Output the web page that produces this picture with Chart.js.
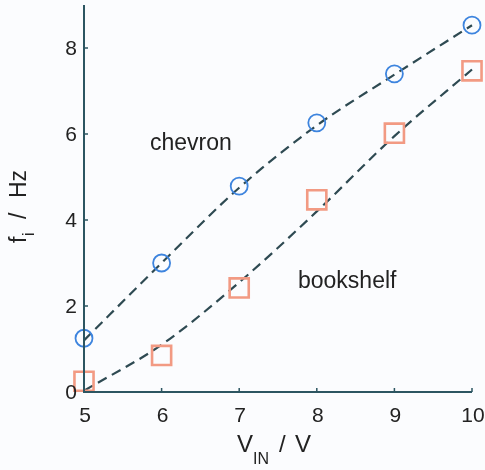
<!DOCTYPE html>
<html>
<head>
<meta charset="utf-8">
<script src="https://cdn.jsdelivr.net/npm/chart.js@4/dist/chart.umd.min.js"></script>
<style>
  html, body { margin: 0; padding: 0; background: #fbfcfe; }
  #wrap { width: 485px; height: 470px; position: relative; }
</style>
</head>
<body>
<div id="wrap"><canvas id="c"></canvas></div>
<script>
// Applied voltage (V)
const voltages = [5, 6, 7, 8, 9, 10];
// Measured frequency, chevron texture (Hz)
const chevron = [1.25, 3.0, 4.79, 6.26, 7.4, 8.53];
// Measured frequency, bookshelf texture (Hz)
const bookshelf = [0.25, 0.85, 2.42, 4.47, 6.02, 7.47];
// Fitted curves through each set
const chevronFit = [1.2, 3.0, 4.75, 6.2, 7.38, 8.53];
const bookshelfFit = [0.03, 1.1, 2.55, 4.2, 5.95, 7.5];
// Axis ticks
const xTicks = [5, 6, 7, 8, 9, 10];
const yTicks = [0, 2, 4, 6, 8];

const FONT = '"Liberation Sans", Arial, sans-serif';
const AXIS = '#2c5561';
const INK = '#222';

const pts = (ys) => voltages.map((x, i) => ({ x, y: ys[i] }));

const annotate = {
  id: 'annotate',
  afterDraw(chart) {
    const { ctx, scales: { x, y }, chartArea: a } = chart;
    ctx.save();
    // axis lines
    ctx.strokeStyle = AXIS;
    ctx.lineWidth = 2;
    ctx.beginPath();
    ctx.moveTo(a.left, a.top);
    ctx.lineTo(a.left, a.bottom);
    ctx.lineTo(a.right, a.bottom);
    ctx.stroke();
    // inward ticks
    ctx.lineWidth = 1.5;
    ctx.beginPath();
    xTicks.forEach(v => { const px = x.getPixelForValue(v); ctx.moveTo(px, a.bottom); ctx.lineTo(px, a.bottom - 4); });
    yTicks.forEach(v => { const py = y.getPixelForValue(v); ctx.moveTo(a.left, py); ctx.lineTo(a.left + 4, py); });
    ctx.stroke();

    // tick labels
    ctx.fillStyle = INK;
    ctx.font = '21px ' + FONT;
    ctx.textAlign = 'center';
    ctx.textBaseline = 'alphabetic';
    xTicks.forEach(v => ctx.fillText(String(v), x.getPixelForValue(v) + 1, a.bottom + 30));
    ctx.textAlign = 'right';
    ctx.textBaseline = 'middle';
    yTicks.forEach(v => ctx.fillText(String(v), a.left - 7, y.getPixelForValue(v) + 1));

    // in-plot labels
    ctx.textAlign = 'left';
    ctx.textBaseline = 'alphabetic';
    ctx.font = '23px ' + FONT;
    ctx.fillText('chevron', 150, 150);
    ctx.fillText('bookshelf', 298, 288);

    // x title: V_IN / V
    ctx.font = '24px ' + FONT;
    ctx.fillText('V', 237, 452);
    ctx.fillText('/', 279, 452);
    ctx.fillText('V', 295, 452);
    ctx.font = '16px ' + FONT;
    ctx.fillText('IN', 253, 464);

    // y title: f_i / Hz
    ctx.translate(26, 0);
    ctx.rotate(-Math.PI / 2);
    ctx.font = '23px ' + FONT;
    ctx.fillText('f', -243, 0);
    ctx.fillText('/', -219, 0);
    ctx.fillText('Hz', -198, 0);
    ctx.font = '16px ' + FONT;
    ctx.fillText('i', -236, 8);
    ctx.restore();
  }
};

new Chart(document.getElementById('c'), {
  type: 'scatter',
  data: {
    datasets: [
      {
        label: 'chevron fit', data: pts(chevronFit), showLine: true,
        borderColor: '#2e4a52', borderWidth: 2.2, borderDash: [10, 6],
        cubicInterpolationMode: 'monotone', pointRadius: 0, order: 2
      },
      {
        label: 'bookshelf fit', data: pts(bookshelfFit), showLine: true,
        borderColor: '#2e4a52', borderWidth: 2.2, borderDash: [10, 6],
        cubicInterpolationMode: 'monotone', pointRadius: 0, order: 2
      },
      {
        label: 'chevron', data: pts(chevron), showLine: false,
        pointStyle: 'circle', pointRadius: 8.5, borderWidth: 1.8,
        borderColor: '#3d84de', backgroundColor: 'rgba(0,0,0,0)', order: 1
      },
      {
        label: 'bookshelf', data: pts(bookshelf), showLine: false,
        pointStyle: 'rect', pointRadius: 13.5, borderWidth: 2.6,
        borderColor: '#f29a83', backgroundColor: 'rgba(0,0,0,0)', order: 1
      }
    ]
  },
  options: {
    responsive: true,
    maintainAspectRatio: false,
    animation: false,
    clip: false,
    layout: { autoPadding: false, padding: { top: 5, right: 13, left: 0, bottom: 0 } },
    plugins: { legend: { display: false }, tooltip: { enabled: false } },
    scales: {
      x: {
        type: 'linear', min: 5, max: 10,
        afterBuildTicks: s => { s.ticks = xTicks.map(v => ({ value: v })); },
        afterFit: s => { s.height = 78; s.paddingLeft = 0; s.paddingRight = 0; },
        grid: { display: false, drawTicks: false },
        border: { display: false },
        ticks: { display: false }
      },
      y: {
        type: 'linear', min: 0, max: 9,
        afterBuildTicks: s => { s.ticks = yTicks.map(v => ({ value: v })); },
        afterFit: s => { s.width = 84; s.paddingTop = 0; s.paddingBottom = 0; },
        grid: { display: false, drawTicks: false },
        border: { display: false },
        ticks: { display: false }
      }
    }
  },
  plugins: [annotate]
});
</script>
</body>
</html>
